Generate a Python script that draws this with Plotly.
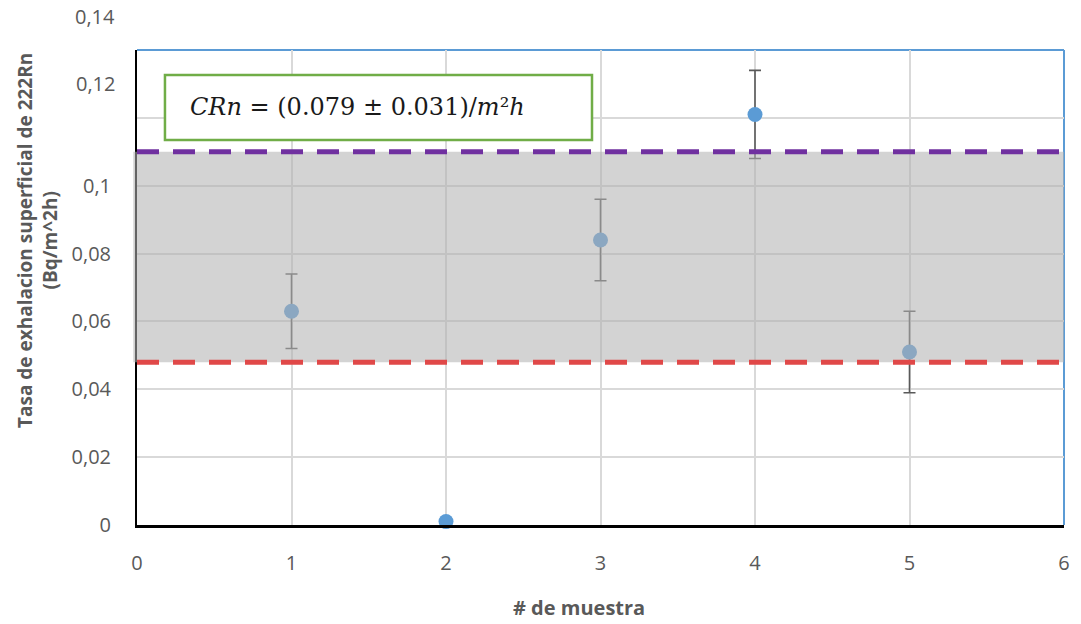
import plotly.graph_objects as go

# Radon-222 surface exhalation rate per sample
samples = [1, 2, 3, 4, 5]
rates = [0.063, 0.001, 0.084, 0.121, 0.051]
rate_err = [0.011, None, 0.012, 0.013, 0.012]

# Mean ± standard deviation band
band_low = 0.048
band_high = 0.110

x_ticks = [0, 1, 2, 3, 4, 5, 6]
x_tick_text = ["0", "1", "2", "3", "4", "5", "6"]
y_ticks = [0, 0.02, 0.04, 0.06, 0.08, 0.10, 0.12, 0.14]
y_tick_text = ["0", "0,02", "0,04", "0,06", "0,08", "0,1", "0,12", "0,14"]
# the two top labels sit half a step higher than their gridlines
raised_ticks = [0.12, 0.14]
raised_offset = 0.01
y_max = 0.14

label_color = "#595959"
grid_color = "#D9D9D9"
font_family = "Open Sans"

fig = go.Figure()

fig.add_trace(go.Scatter(
    x=samples,
    y=rates,
    mode="markers",
    marker=dict(color="#5B9BD5", size=15),
    error_y=dict(type="data", array=rate_err, visible=True,
                 color="#595959", thickness=1.6, width=6),
    cliponaxis=False,
    showlegend=False,
))

shapes = [
    # shaded band (semi-transparent, over grid and markers)
    dict(type="rect", xref="paper", yref="y", x0=-0.004, x1=1,
         y0=band_low, y1=band_high, layer="above",
         fillcolor="rgba(177,177,177,0.565)", line=dict(width=0)),
    dict(type="line", xref="paper", yref="y", x0=0, x1=1,
         y0=band_high, y1=band_high, layer="above",
         line=dict(color="#7030A0", width=5, dash="22px,14px")),
    dict(type="line", xref="paper", yref="y", x0=0, x1=1,
         y0=band_low, y1=band_low, layer="above",
         line=dict(color="#E04848", width=5, dash="22px,14px")),
    # plot frame, top and right edges
    dict(type="line", xref="paper", yref="paper", x0=0, x1=1, y0=1, y1=1,
         line=dict(color="#5B9BD5", width=2), layer="below"),
    dict(type="line", xref="paper", yref="paper", x0=1, x1=1, y0=0, y1=1,
         line=dict(color="#5B9BD5", width=2), layer="below"),
    # formula box
    dict(type="rect", xref="x", yref="y", x0=0.181, x1=2.945,
         y0=0.1135, y1=0.1326, layer="above",
         fillcolor="white", line=dict(color="#70AD47", width=2.5)),
]

annotations = [
    dict(x=0.33, y=0.1231, xref="x", yref="y", xanchor="left", yanchor="middle",
         text="<i>CRn</i> = (0.079 ± 0.031)/<i>m</i>²<i>h</i>",
         showarrow=False, font=dict(family="DejaVu Serif", size=24, color="#1A1A1A")),
    dict(x=(579 - 137) / 927, y=-0.173, xref="paper", yref="paper",
         xanchor="center", yanchor="middle", text="<b># de muestra</b>",
         showarrow=False, font=dict(family=font_family, size=20, color=label_color)),
    dict(x=-100 / 927, y=(525 - 241) / 475, xref="paper", yref="paper",
         xanchor="center", yanchor="middle", textangle=-90,
         text="<b>Tasa de exhalacion superficial de 222Rn<br>(Bq/m^2h)</b>",
         showarrow=False,
         font=dict(family=font_family, size=19, color=label_color)),
]

# axis labels: normal ticks keep their text; raised ones are drawn separately
axis_text = []
for val, txt in zip(y_ticks, y_tick_text):
    if val in raised_ticks:
        axis_text.append("<span style='color:rgba(0,0,0,0)'>" + txt + "</span>")
        annotations.append(dict(
            x=0, y=(val + raised_offset) / y_max, xref="paper", yref="paper",
            xanchor="right", yanchor="middle", xshift=-20, text=txt,
            showarrow=False,
            font=dict(family=font_family, size=20, color=label_color)))
    else:
        axis_text.append(txt)

fig.update_layout(
    width=1081, height=624,
    margin=dict(l=137, r=17, t=50, b=99),
    paper_bgcolor="white", plot_bgcolor="white",
    shapes=shapes,
    annotations=annotations,
    font=dict(family=font_family, size=18, color=label_color),
    xaxis=dict(
        range=[0, 6], tickvals=x_ticks, ticktext=x_tick_text,
        showgrid=True, gridcolor=grid_color, gridwidth=1.5,
        showline=True, linecolor="black", linewidth=2.5,
        zeroline=False, ticks="", ticklabelstandoff=18,
        tickfont=dict(family=font_family, size=20, color=label_color),
    ),
    yaxis=dict(
        range=[0, y_max], tickvals=y_ticks, ticktext=axis_text,
        showgrid=True, gridcolor=grid_color, gridwidth=1.5,
        showline=True, linecolor="black", linewidth=2,
        zeroline=False, ticks="", ticklabelstandoff=20,
        tickfont=dict(family=font_family, size=20, color=label_color),
    ),
)

fig.write_html("out.html")
